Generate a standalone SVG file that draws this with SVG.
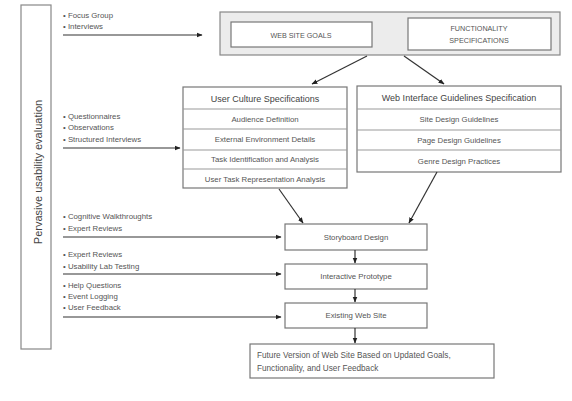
<svg xmlns="http://www.w3.org/2000/svg" width="572" height="401" viewBox="0 0 572 401">
<defs>
<marker id="ah" viewBox="0 0 10 10" refX="9" refY="5" markerWidth="6" markerHeight="6" orient="auto" markerUnits="userSpaceOnUse">
<path d="M0,1 L10,5 L0,9 Z" fill="#222"/>
</marker>
<style>
text{font-family:"Liberation Sans",Arial,sans-serif;fill:#555}
.l{font-size:7.8px}
.c{font-size:7.8px;text-anchor:middle}
.h{font-size:9px;text-anchor:middle;fill:#444}
.u{font-size:7.2px;text-anchor:middle;fill:#555}
.box{fill:#fff;stroke:#777;stroke-width:1.2}
.row{stroke:#999;stroke-width:1}
.con{stroke:#333;stroke-width:1.2;fill:none;marker-end:url(#ah)}
</style>
</defs>
<rect width="572" height="401" fill="#fff"/>
<g id="pervasive">
<rect x="21" y="5" width="30" height="344" fill="#fff" stroke="#888" stroke-width="1.2"/>
<text transform="translate(42,172) rotate(-90)" style="font-size:11px;text-anchor:middle;fill:#444">Pervasive usability evaluation</text>
</g>
<g id="top">
<rect x="220" y="12" width="340" height="43" fill="#ececec" stroke="#888" stroke-width="1.2"/>
<rect x="231" y="22" width="141" height="25" class="box"/>
<text x="301" y="38" class="u">WEB SITE GOALS</text>
<rect x="408" y="18" width="143" height="32" class="box"/>
<text x="479" y="31" class="u">FUNCTIONALITY</text>
<text x="479" y="43" class="u">SPECIFICATIONS</text>
</g>
<g id="ucs">
<rect x="183" y="87" width="164" height="101" class="box"/>
<line x1="183" y1="109" x2="347" y2="109" class="row"/>
<line x1="183" y1="129" x2="347" y2="129" class="row"/>
<line x1="183" y1="150" x2="347" y2="150" class="row"/>
<line x1="183" y1="169" x2="347" y2="169" class="row"/>
<text x="265" y="102" class="h">User Culture Specifications</text>
<text x="265" y="122" class="c">Audience Definition</text>
<text x="265" y="142" class="c">External Environment Details</text>
<text x="265" y="162" class="c">Task Identification and Analysis</text>
<text x="265" y="182" class="c">User Task Representation Analysis</text>
</g>
<g id="wigs">
<rect x="357" y="86" width="204" height="86" class="box"/>
<line x1="357" y1="109" x2="561" y2="109" class="row"/>
<line x1="357" y1="130" x2="561" y2="130" class="row"/>
<line x1="357" y1="150" x2="561" y2="150" class="row"/>
<text x="459" y="101" class="h">Web Interface Guidelines Specification</text>
<text x="459" y="122" class="c">Site Design Guidelines</text>
<text x="459" y="143" class="c">Page Design Guidelines</text>
<text x="459" y="164" class="c">Genre Design Practices</text>
</g>
<g id="storyboard">
<rect x="285" y="224" width="142" height="26" class="box"/>
<text x="356" y="240" class="c">Storyboard Design</text>
</g>
<g id="prototype">
<rect x="285" y="264" width="142" height="25" class="box"/>
<text x="356" y="279" class="c">Interactive Prototype</text>
</g>
<g id="existing">
<rect x="285" y="303" width="142" height="25" class="box"/>
<text x="356" y="318" class="c">Existing Web Site</text>
</g>
<g id="future">
<rect x="250" y="344" width="244" height="34" class="box"/>
<text x="257" y="358" class="l" style="font-size:8.2px">Future Version of Web Site Based on Updated Goals,</text>
<text x="257" y="371" class="l" style="font-size:8.2px">Functionality, and User Feedback</text>
</g>
<g id="inputs">
<text x="63" y="18" class="l">• Focus Group</text>
<text x="63" y="29" class="l">• Interviews</text>
<text x="63" y="119" class="l">• Questionnaires</text>
<text x="63" y="130" class="l">• Observations</text>
<text x="63" y="142" class="l">• Structured Interviews</text>
<text x="63" y="219" class="l">• Cognitive Walkthroughts</text>
<text x="63" y="231" class="l">• Expert Reviews</text>
<text x="63" y="257" class="l">• Expert Reviews</text>
<text x="63" y="269" class="l">• Usability Lab Testing</text>
<text x="63" y="288" class="l">• Help Questions</text>
<text x="63" y="299" class="l">• Event Logging</text>
<text x="63" y="310" class="l">• User Feedback</text>
</g>
<g id="connectors">
<line x1="63" y1="35" x2="202" y2="35" class="con"/>
<line x1="63" y1="148" x2="180" y2="148" class="con"/>
<line x1="63" y1="237" x2="281" y2="237" class="con"/>
<line x1="63" y1="274" x2="281" y2="274" class="con"/>
<line x1="63" y1="317" x2="281" y2="317" class="con"/>
<line x1="367" y1="56" x2="312" y2="84" class="con"/>
<line x1="404" y1="56" x2="444" y2="84" class="con"/>
<line x1="279" y1="189" x2="303" y2="223" class="con"/>
<line x1="437" y1="172" x2="409" y2="223" class="con"/>
<line x1="355" y1="250" x2="355" y2="263" class="con"/>
<line x1="355" y1="289" x2="355" y2="302" class="con"/>
<line x1="355" y1="328" x2="355" y2="343" class="con"/>
</g>
</svg>
